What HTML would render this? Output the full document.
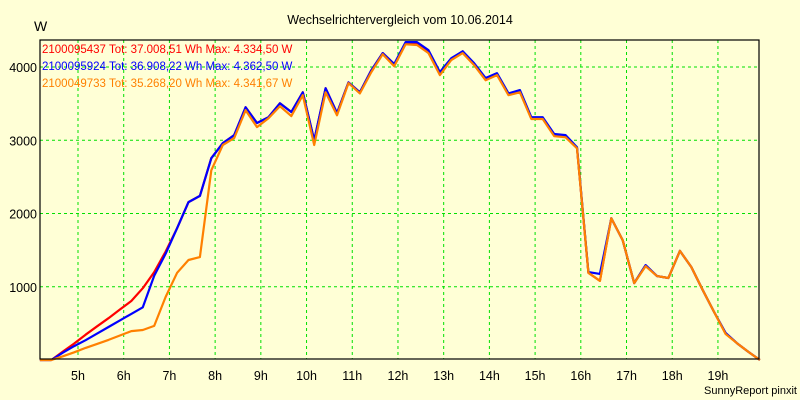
<!DOCTYPE html>
<html><head><meta charset="utf-8"><style>
html,body{margin:0;padding:0;background:#ffffd6;}
svg{display:block;font-family:"Liberation Sans",sans-serif;}
</style></head><body>
<svg id="chart" width="800" height="400" viewBox="0 0 800 400">
<rect x="0" y="0" width="800" height="400" fill="#ffffd6"/>
<text x="400" y="24" font-size="12.5" text-anchor="middle" fill="#000">Wechselrichtervergleich vom 10.06.2014</text>
<text x="34" y="31" font-size="14" fill="#000">W</text>
<g id="grid"></g>
<g id="series"></g>
<rect x="40" y="40" width="719" height="319" fill="none" stroke="#000" stroke-width="1.2"/>
<g id="ticks"></g>
<g font-size="11.5">
<text x="42" y="53" fill="#ff0000">2100095437 Tot: 37.008,51 Wh Max: 4.334,50 W</text>
<text x="42" y="70" fill="#0000ff">2100095924 Tot: 36.908,22 Wh Max: 4.362,50 W</text>
<text x="42" y="87" fill="#ff8000">2100049733 Tot: 35.268,20 Wh Max: 4.341,67 W</text>
</g>
<text x="797" y="394" font-size="11" text-anchor="end" fill="#000">SunnyReport pinxit</text>
</svg>
<script>
const times = [4.167,4.417,4.667,4.917,5.167,5.417,5.667,5.917,6.167,6.417,6.667,6.917,7.167,7.417,7.667,7.917,8.167,8.417,8.667,8.917,9.167,9.417,9.667,9.917,10.167,10.417,10.667,10.917,11.167,11.417,11.667,11.917,12.167,12.417,12.667,12.917,13.167,13.417,13.667,13.917,14.167,14.417,14.667,14.917,15.167,15.417,15.667,15.917,16.167,16.417,16.667,16.917,17.167,17.417,17.667,17.917,18.167,18.417,18.667,18.917,19.167,19.417,19.667,19.917];
const redValues = [0,0,115,225,345,460,570,690,805,980,1200,1480,1800,2155,2240,2755,2960,3070,3450,3235,3315,3505,3385,3655,3000,3710,3370,3790,3655,3955,4190,4040,4320,4320,4210,3900,4110,4215,4040,3840,3905,3630,3670,3300,3300,3070,3060,2895,1190,1080,1935,1635,1050,1290,1145,1120,1490,1270,955,655,365,230,110,0];
const blueValues = [0,0,100,190,270,360,450,540,630,720,1150,1450,1800,2155,2240,2755,2960,3070,3450,3235,3315,3505,3385,3655,3000,3710,3370,3790,3655,3955,4190,4040,4340,4340,4230,3930,4120,4215,4050,3850,3915,3640,3685,3315,3315,3085,3070,2905,1200,1175,1935,1635,1050,1295,1145,1120,1490,1270,955,655,370,230,110,0];
const orangeValues = [0,0,50,105,165,220,275,335,395,410,465,860,1190,1365,1405,2590,2935,3030,3410,3180,3300,3465,3330,3615,2935,3655,3340,3780,3640,3930,4175,4010,4310,4300,4190,3890,4095,4190,4025,3820,3890,3615,3655,3290,3290,3055,3040,2890,1190,1080,1935,1635,1050,1280,1145,1120,1490,1270,955,655,355,230,110,0];
const yTicks = [1000,2000,3000,4000];
const yTickLabels = ["1000","2000","3000","4000"];
const xTicks = [5,6,7,8,9,10,11,12,13,14,15,16,17,18,19];
const xTickLabels = ["5h","6h","7h","8h","9h","10h","11h","12h","13h","14h","15h","16h","17h","18h","19h"];

const NS = "http://www.w3.org/2000/svg";
const X0 = 40, X1 = 759, Y0 = 360;
function xs(h){ return 78 + (h - 5) * 45.71; }
function ys(v){ return Y0 - v * 0.07325; }
const grid = document.getElementById('grid');
const ticks = document.getElementById('ticks');
yTicks.forEach((v,i)=>{
  const l = document.createElementNS(NS,'line');
  
  
  l.setAttribute('x1',X0); l.setAttribute('x2',X1);
  l.setAttribute('y1',ys(v)); l.setAttribute('y2',ys(v));
  l.setAttribute('stroke','#00e000'); l.setAttribute('stroke-dasharray','3,3');
  grid.appendChild(l);
  const t = document.createElementNS(NS,'text');
  
  
  t.setAttribute('x',37); t.setAttribute('y',ys(v)+5);
  t.setAttribute('font-size','12.5'); t.setAttribute('text-anchor','end');
  t.textContent = yTickLabels[i];
  ticks.appendChild(t);
});
xTicks.forEach((h,i)=>{
  const l = document.createElementNS(NS,'line');
  
  
  l.setAttribute('x1',xs(h)); l.setAttribute('x2',xs(h));
  l.setAttribute('y1',40); l.setAttribute('y2',359);
  l.setAttribute('stroke','#00e000'); l.setAttribute('stroke-dasharray','3,3');
  grid.appendChild(l);
  const t = document.createElementNS(NS,'text');
  
  
  t.setAttribute('x',xs(h)); t.setAttribute('y',380);
  t.setAttribute('font-size','12.5'); t.setAttribute('text-anchor','middle');
  t.textContent = xTickLabels[i];
  ticks.appendChild(t);
});
const series = document.getElementById('series');
function drawLine(vals, color, name){
  const p = document.createElementNS(NS,'polyline');
  
  
  p.setAttribute('points', vals.map((v,i)=>xs(times[i]).toFixed(1)+','+ys(v).toFixed(1)).join(' '));
  p.setAttribute('fill','none'); p.setAttribute('stroke',color);
  p.setAttribute('stroke-width','2.2'); p.setAttribute('stroke-linejoin','round');
  series.appendChild(p);
}
drawLine(redValues,'#ff0000','series-line-2100095437');
drawLine(blueValues,'#0000ff','series-line-2100095924');
drawLine(orangeValues,'#ff8000','series-line-2100049733');
</script>
</body></html>
